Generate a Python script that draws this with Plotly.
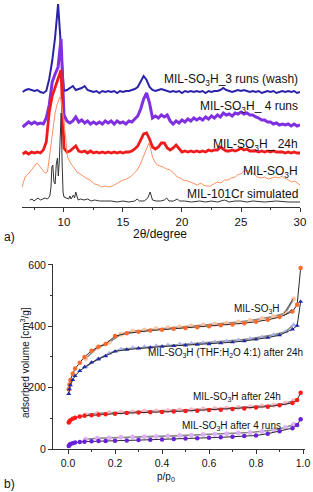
import plotly.graph_objects as go

FONT = "Arial, Liberation Sans, sans-serif"

# ---------------- (a) XRD patterns ----------------
scan_2theta = [6.5, 6.75, 7.0, 7.25, 7.5, 7.75, 8.0, 8.25, 8.5, 8.75,
               9.0, 9.25, 9.5, 9.75, 10.0, 10.25, 10.5, 10.75, 11.0, 11.25,
               11.5, 11.75, 12.0, 12.25, 12.5, 12.75, 13.0, 13.25, 13.5, 13.75,
               14.0, 14.25, 14.5, 14.75, 15.0, 15.25, 15.5, 15.75, 16.0, 16.25,
               16.5, 16.75, 17.0, 17.25, 17.5, 17.75, 18.0, 18.25, 18.5, 18.75,
               19.0, 19.25, 19.5, 19.75, 20.0, 20.25, 20.5, 20.75, 21.0, 21.25,
               21.5, 21.75, 22.0, 22.25, 22.5, 22.75, 23.0, 23.25, 23.5, 23.75,
               24.0, 24.25, 24.5, 24.75, 25.0, 25.25, 25.5, 25.75, 26.0, 26.25,
               26.5, 26.75, 27.0, 27.25, 27.5, 27.75, 28.0, 28.25, 28.5, 28.75,
               29.0, 29.25, 29.5, 29.75, 30.0]

wash3_int = [0, 2, 3, 2, 1, 2, 0, -1, 1, 13,
             31, 55, 88, 44, 1, 2, 4, 6, 2, 3,
             4, 6, 2, 1, 0, 1, -1, 1, 0, 1,
             0, 1, -1, 1, 0, 1, 1, 2, 3, 5,
             10, 16, 12, 5, 2, 1, 2, 3, 2, 1,
             0, 1, 0, 1, -1, 1, 0, 1, 0, 1,
             0, 1, -1, 1, 0, 1, 1, 2, 4, 2,
             1, 0, 1, 2, 1, 2, 1, 0, 1, 0,
             1, -1, 0, 1, 0, 1, -1, 0, 1, 0,
             1, 0, 1, -1, 0]

runs4_int = [0, 3, 5, 3, 5, 3, 4, 3, 9, 22,
             45, 53, 60, 88, 12, 6, 4, 6, 10, 5,
             7, 4, 6, 3, 5, 3, 5, 3, 6, 4,
             6, 3, 6, 4, 5, 3, 6, 5, 8, 11,
             18, 28, 34, 24, 9, 11, 9, 12, 10, 12,
             6, 3, 6, 4, 7, 5, 8, 6, 9, 7,
             9, 7, 10, 8, 11, 9, 12, 10, 14, 12,
             13, 11, 14, 13, 15, 13, 14, 12, 12, 10,
             9, 7, 7, 5, 5, 3, 4, 2, 3, 2,
             3, 1, 3, 1, 2]

h24_int = [0, 2, 0, 2, 1, 2, 1, 4, 12, 42,
           58, 66, 75, 84, 6, 2, 3, 6, 8, 3,
           2, 3, 1, 3, 1, 2, 1, 2, 1, 2,
           1, 2, 1, 2, 1, 2, 2, 3, 5, 8,
           14, 20, 21, 15, 7, 5, 7, 11, 11, 6,
           4, 6, 9, 5, 2, 3, 2, 3, 2, 3,
           2, 3, 2, 4, 3, 4, 4, 7, 5, 3,
           3, 4, 3, 4, 6, 4, 5, 3, 3, 3,
           2, 3, 2, 3, 2, 3, 2, 2, 2, 1,
           2, 1, 2, 1, 1]

fresh_2theta = [6.45, 6.7, 6.9, 7.1, 7.3, 7.5, 7.7, 7.85, 8.0, 8.2,
                8.4, 8.6, 8.8, 8.95, 9.1, 9.25, 9.4, 9.55, 9.65, 9.75,
                9.9, 10.1, 10.3, 10.55, 10.8, 11.1, 11.5, 11.85, 12.2, 12.6,
                12.9, 13.2, 13.5, 13.8, 14.1, 14.4, 14.7, 15.0, 15.3, 15.6,
                15.9, 16.2, 16.4, 16.6, 16.8, 17.0, 17.2, 17.35, 17.5, 17.7,
                17.9, 18.15, 18.4, 18.7, 19.0, 19.3, 19.6, 19.85, 20.1, 20.5,
                20.9, 21.3, 21.6, 21.8, 22.1, 22.4, 22.7, 23.0, 23.3, 23.6,
                23.9, 24.2, 24.5, 24.7, 24.9, 25.1, 25.3, 25.6, 25.9, 26.15,
                26.4, 26.7, 27.0, 27.3, 27.6, 27.9, 28.2, 28.5, 28.7, 29.0,
                29.3, 29.55, 29.8, 30.0]
fresh_int = [0, 10, 12, 15, 18, 22, 24, 22, 20, 17,
             14, 15, 34, 50, 62, 74, 82, 88, 90, 88,
             75, 54, 30, 24, 20, 15, 12, 9, 7, 3,
             2, 0, 1, 0, 1, 3, 5, 7, 8, 10,
             13, 17, 21, 27, 34, 40, 44, 38, 30, 25,
             22, 21, 20, 18, 17, 14, 10, 9, 7, 6,
             4, 2, 4, 2, 1, 1, 3, 5, 4, 7,
             7, 9, 10, 12, 13, 14, 17, 16, 15, 12,
             10, 9, 10, 8, 9, 10, 9, 11, 9, 7,
             5, 6, 4, 2]

sim_2theta = [7.1, 7.3, 7.45, 7.6, 7.8, 8.0, 8.2, 8.4, 8.6, 8.8,
              8.9, 8.97, 9.05, 9.15, 9.25, 9.35, 9.45, 9.52, 9.6, 9.68,
              9.76, 9.84, 9.92, 10.0, 10.2, 10.4, 10.5, 10.6, 10.7, 10.8,
              10.9, 11.0, 11.1, 11.2, 11.4, 11.7, 12.0, 12.3, 12.6, 13.0,
              13.5, 14.0, 14.5, 15.0, 15.5, 16.0, 16.2, 16.4, 16.8, 17.1,
              17.3, 17.5, 17.8, 18.2, 18.5, 18.7, 18.9, 19.3, 19.6, 19.8,
              20.2, 20.8, 21.5, 22.0, 22.5, 23.0, 23.6, 24.0, 24.5, 25.0,
              25.5, 26.0, 27.0, 28.0, 29.0, 30.0]
sim_int = [2, 3, 1, 2, 4, 2, 3, 4, 3, 6,
           15, 35, 37, 20, 18, 38, 44, 26, 40, 70,
           89, 40, 10, 5, 4, 3, 6, 3, 5, 7,
           4, 10, 6, 2, 3, 2, 3, 1, 2, 1,
           1, 1, 0, 1, 0, 1, 3, 1, 1, 4,
           10, 2, 1, 1, 2, 4, 1, 1, 3, 1,
           1, 0, 1, 0, 1, 0, 2, 0, 1, 1,
           0, 1, 0, 1, 0, 0]

xrd_names = ["MIL-SO<sub>3</sub>H_3 runs (wash)", "MIL-SO<sub>3</sub>H_ 4 runs",
             "MIL-SO<sub>3</sub>H_ 24h", "MIL-SO<sub>3</sub>H", "MIL-101Cr simulated"]
xrd_offsets = [115, 80, 53, 20, 5]
xrd_label_y = [127, 100, 62, 35, 13]

# ---------------- (b) N2 isotherms ----------------
ads_p = [0.003, 0.006, 0.01, 0.02, 0.03, 0.05, 0.07, 0.1, 0.13, 0.16,
         0.2, 0.25, 0.3, 0.35, 0.4, 0.45, 0.5, 0.55, 0.6, 0.65,
         0.7, 0.75, 0.8, 0.85, 0.9, 0.955, 0.975, 0.99]
des_p = [0.96, 0.925, 0.875, 0.825, 0.775, 0.725, 0.675, 0.625, 0.575, 0.525,
         0.475, 0.425, 0.375, 0.325, 0.275, 0.225, 0.175, 0.125, 0.075]

fresh_ads = [195, 210, 225, 245, 262, 281, 300, 320, 333, 342,
             368, 377, 382, 386, 389, 392, 394, 397, 400, 403,
             406, 410, 415, 421, 430, 448, 470, 590]
fresh_des = [489, 443, 432, 425, 419, 414, 410, 407, 404, 401,
             398, 395, 392, 388, 384, 374, 348, 330, 295]

thf_ads = [180, 195, 208, 225, 238, 255, 267, 282, 293, 303,
           318, 324, 328, 331, 334, 336, 338, 340, 342, 345,
           348, 352, 357, 363, 371, 390, 402, 480]
thf_des = [405, 382, 372, 365, 359, 355, 352, 349, 346, 344,
           342, 339, 336, 333, 330, 325, 312, 292, 268]

h24_ads = [86, 90, 94, 99, 102, 106, 108, 110, 112, 113,
           115, 117, 119, 120, 121, 122, 124, 125, 127, 128,
           130, 132, 135, 138, 143, 150, 160, 183]
h24_des = [157, 149, 143, 140, 137, 135, 133, 131, 130, 128,
           127, 125, 124, 123, 121, 120, 118, 116, 112]

runs4_ads = [10, 13, 16, 19, 21, 23, 24, 25, 26, 26,
             27, 28, 29, 30, 31, 33, 34, 35, 37, 38,
             40, 42, 44, 50, 58, 68, 78, 97]
runs4_des = [80, 70, 62, 57, 54, 52, 50, 48, 47, 45,
             44, 42, 41, 40, 39, 38, 36, 35, 32]

fig = go.Figure()

xrd_series = [
    (scan_2theta, wash3_int, "#2a22a8", 2.0),
    (scan_2theta, runs4_int, "#8030e0", 3.0),
    (scan_2theta, h24_int, "#ee1c1c", 2.8),
    (fresh_2theta, fresh_int, "#ff9060", 1.0),
    (sim_2theta, sim_int, "#333333", 1.0),
]
for (xs, ys, col, lw), off, nm in zip(xrd_series, xrd_offsets, xrd_names):
    fig.add_trace(go.Scatter(x=xs, y=[v + off for v in ys], mode="lines",
                             line=dict(color=col, width=lw), name=nm,
                             xaxis="x", yaxis="y", showlegend=False))

for nm, ly in zip(xrd_names, xrd_label_y):
    fig.add_annotation(x=30, y=ly, xref="x", yref="y", text=nm, showarrow=False,
                       xanchor="right", yanchor="middle",
                       font=dict(family=FONT, size=12, color="#111"))

iso = [
    ("MIL-SO3H", fresh_ads, fresh_des, "#ff6a2a", "#ffc2a0", "circle"),
    ("THF", thf_ads, thf_des, "#1e2aa8", "#aab0ee", "triangle-up"),
    ("24h", h24_ads, h24_des, "#ff1a1a", "#ffb4c0", "circle"),
    ("4runs", runs4_ads, runs4_des, "#6a1fd8", "#dcb0f4", "circle"),
]
for nm, ads, des, c_ads, c_des, sym in iso:
    fig.add_trace(go.Scatter(x=des_p, y=des, mode="lines+markers", xaxis="x2", yaxis="y2",
                             line=dict(color="#8a8a8a", width=1.6),
                             marker=dict(symbol=sym, size=4.5, color=c_des,
                                         line=dict(color=c_des, width=0.5)),
                             showlegend=False, name=nm + " des"))
    fig.add_trace(go.Scatter(x=ads_p, y=ads, mode="lines+markers", xaxis="x2", yaxis="y2",
                             line=dict(color="#2a2a2a", width=1),
                             marker=dict(symbol=sym, size=4.5, color=c_ads),
                             showlegend=False, name=nm + " ads"))

iso_labels = [
    ("MIL-SO<sub>3</sub>H", 0.91, 456),
    ("MIL-SO<sub>3</sub>H (THF:H<sub>2</sub>O 4:1) after 24h", 1.008, 313),
    ("MIL-SO<sub>3</sub>H after 24h", 0.915, 170),
    ("MIL-SO<sub>3</sub>H after 4 runs", 0.915, 75),
]
for txt, lx, ly in iso_labels:
    fig.add_annotation(x=lx, y=ly, xref="x2", yref="y2", text=txt, showarrow=False,
                       xanchor="right", yanchor="middle",
                       font=dict(family=FONT, size=10, color="#111"))
# leader lines from label to curves
for tx, ty, sx, sy in [(0.957, 489, 0.915, 437), (0.953, 455, 0.912, 430)]:
    fig.add_annotation(x=tx, y=ty, ax=sx, ay=sy, xref="x2", yref="y2",
                       axref="x2", ayref="y2", text="", showarrow=True,
                       arrowhead=0, arrowwidth=0.8, arrowcolor="#333")

W, H = 313, 492
# text labels
fig.add_annotation(x=160 / W, y=1 - 234 / H, xref="paper", yref="paper",
                   xanchor="center", yanchor="middle",
                   text="2θ/degree", showarrow=False,
                   font=dict(family=FONT, size=12, color="#111"))
fig.add_annotation(x=2 / W, y=1 - 237 / H, xref="paper", yref="paper",
                   xanchor="left", yanchor="middle",
                   text="a)", showarrow=False, font=dict(family=FONT, size=12, color="#111"))
fig.add_annotation(x=2 / W, y=1 - 484 / H, xref="paper", yref="paper",
                   xanchor="left", yanchor="middle",
                   text="b)", showarrow=False, font=dict(family=FONT, size=12, color="#111"))
fig.add_annotation(x=166 / W, y=1 - 477 / H, xref="paper", yref="paper",
                   xanchor="center", yanchor="middle",
                   text="p/p<sub>0</sub>", showarrow=False,
                   font=dict(family=FONT, size=10, color="#111"))
fig.add_annotation(x=25 / W, y=1 - 363 / H, xref="paper", yref="paper", textangle=-90,
                   xanchor="center", yanchor="middle",
                   text="adsorbed volume [cm<sup>3</sup>/g]", showarrow=False,
                   font=dict(family=FONT, size=10, color="#111"))

fig.update_layout(
    width=W, height=H, margin=dict(l=0, r=0, t=0, b=0, autoexpand=False),
    paper_bgcolor="white", plot_bgcolor="white",
    font=dict(family=FONT, color="#111"),
    xaxis=dict(domain=[21.5 / W, 300 / W], range=[6.4, 30], anchor="y", automargin=False,
               tickvals=[10, 15, 20, 25, 30], ticks="outside", ticklen=4, tickwidth=1,
               tickcolor="#333", showline=True, linecolor="#333", linewidth=1,
               showgrid=False, zeroline=False, tickfont=dict(size=11.5),
               minor=dict(tickvals=[7.5, 12.5, 17.5, 22.5, 27.5], ticks="outside",
                          ticklen=2, tickcolor="#333")),
    yaxis=dict(domain=[1 - 207 / H, 1], range=[0, 207], anchor="x", visible=False,
               automargin=False),
    xaxis2=dict(domain=[53 / W, 305 / W], range=[-0.064, 1.0085], anchor="y2",
                automargin=False,
                tickvals=[0, 0.2, 0.4, 0.6, 0.8, 1.0], tickformat=".1f",
                ticks="outside", ticklen=4, tickcolor="#333", showline=True,
                linecolor="#333", linewidth=1, showgrid=False, zeroline=False,
                tickfont=dict(size=10.5),
                minor=dict(tickvals=[0.1, 0.3, 0.5, 0.7, 0.9], ticks="outside",
                           ticklen=2, tickcolor="#333")),
    yaxis2=dict(domain=[1 - 449 / H, 1 - 264 / H], range=[0, 603], anchor="x2",
                automargin=False,
                tickvals=[0, 200, 400, 600], ticks="outside", ticklen=4,
                tickcolor="#333", showline=True, linecolor="#333", linewidth=1,
                showgrid=False, zeroline=False, tickfont=dict(size=10.5),
                minor=dict(tickvals=[100, 300, 500], ticks="outside", ticklen=2,
                           tickcolor="#333")),
)

fig.write_html("out.html", config={"displayModeBar": False},
               post_script="document.body.style.margin='0';document.body.style.overflow='hidden';")
